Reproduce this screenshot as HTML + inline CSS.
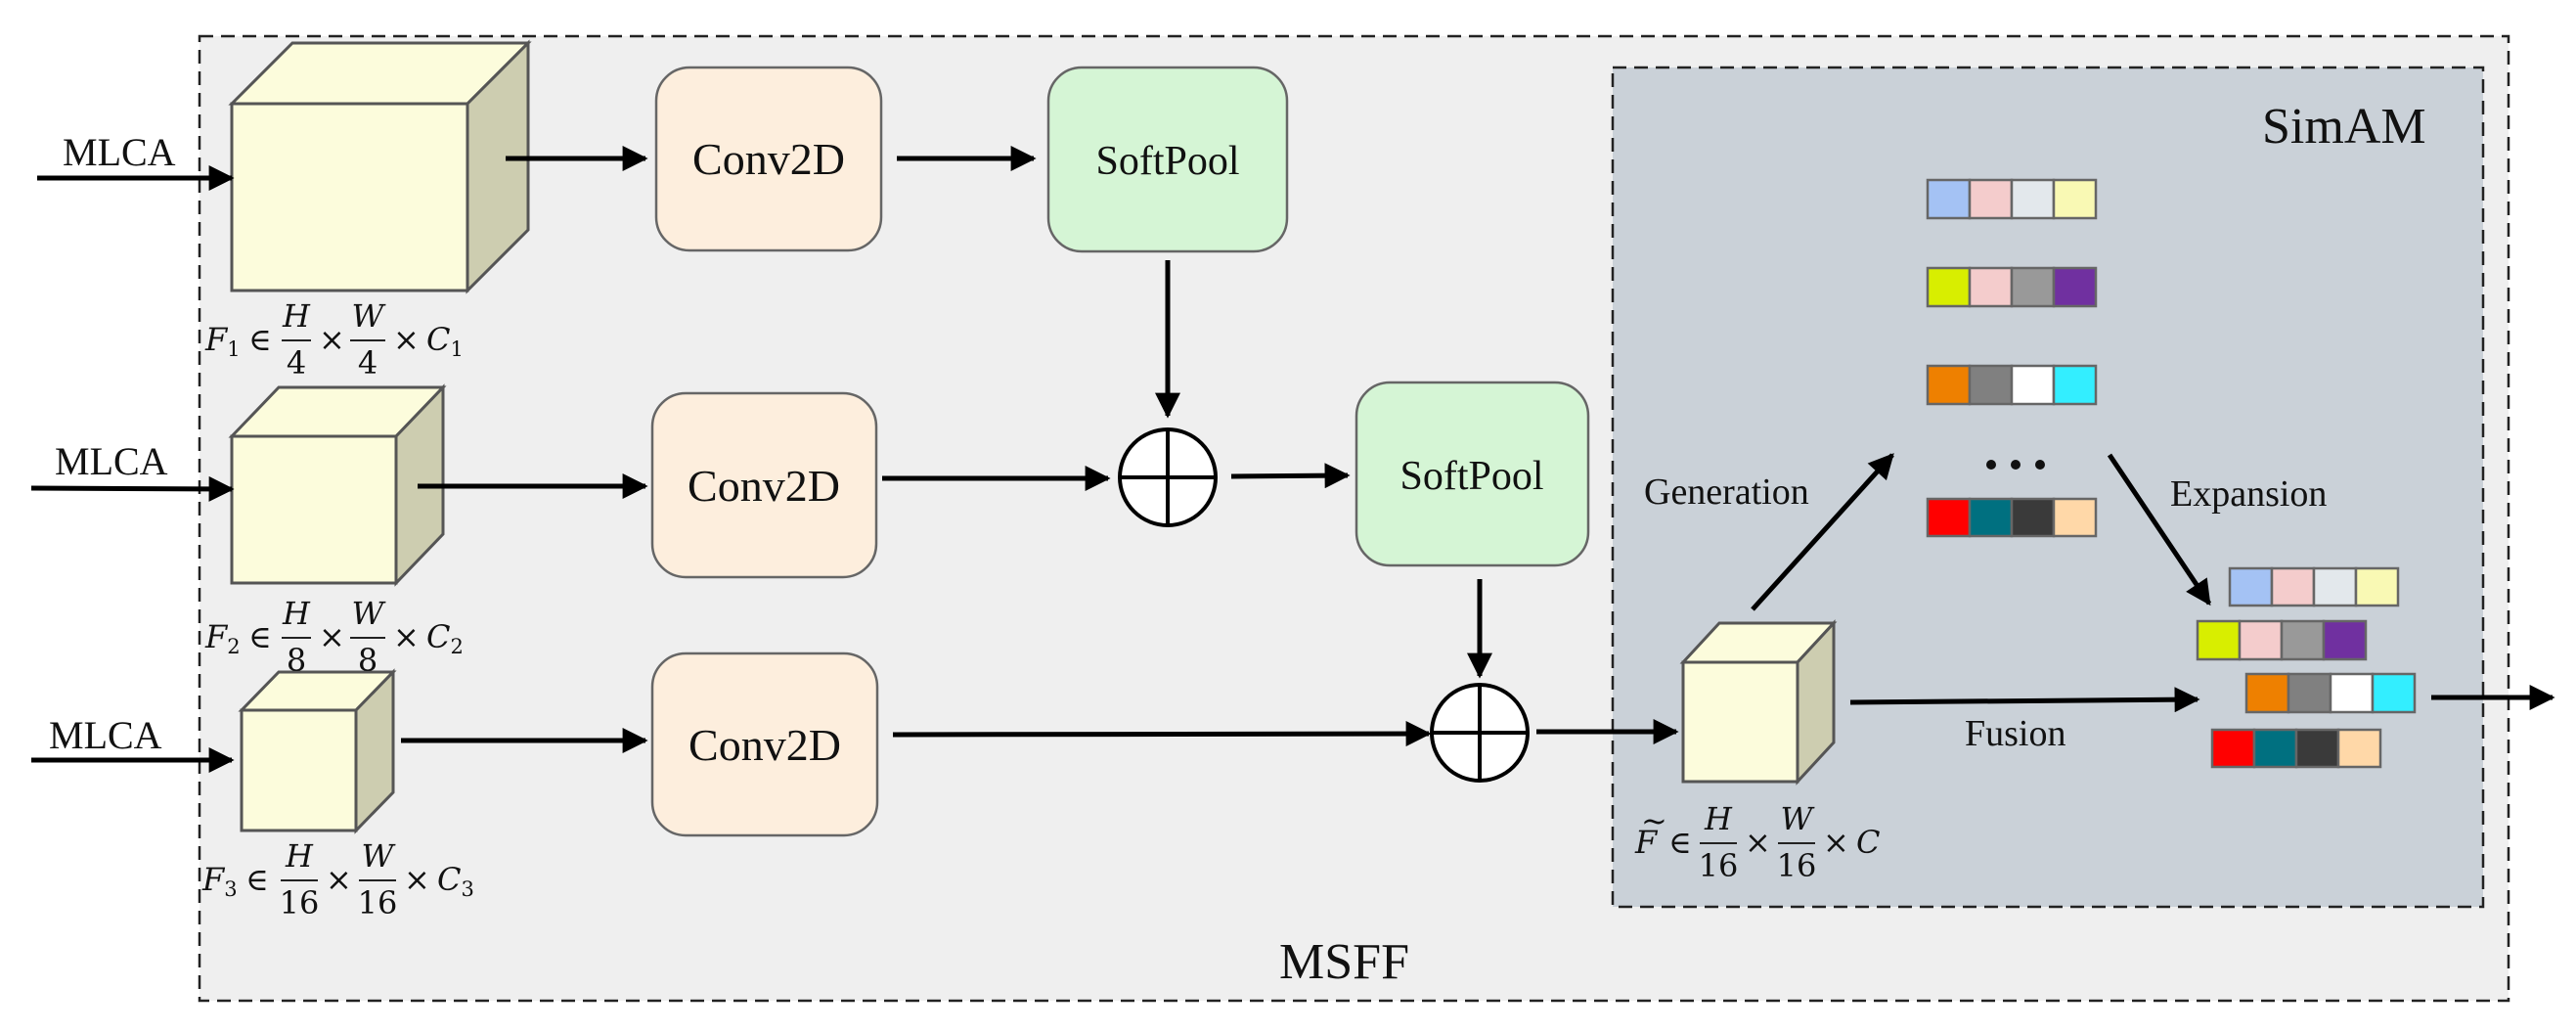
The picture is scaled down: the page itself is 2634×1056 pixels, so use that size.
<!DOCTYPE html>
<html><head><meta charset="utf-8"><style>
html,body{margin:0;padding:0;background:#fff;}
svg text{font-family:"Liberation Serif",serif;fill:#111;}
.m{font-family:"DejaVu Serif","Liberation Serif",serif;font-style:italic;font-size:32px;}
.n{font-family:"DejaVu Serif","Liberation Serif",serif;font-size:32px;}
.s{font-size:21px;}
</style></head><body>
<svg width="2634" height="1051" viewBox="0 0 2634 1051" xmlns="http://www.w3.org/2000/svg">
<defs>
<marker id="ar" viewBox="0 0 10 10" refX="9" refY="5" markerWidth="28" markerHeight="26" markerUnits="userSpaceOnUse" orient="auto"><path d="M0,0 L10,5 L0,10 z" fill="#000"/></marker>
</defs>
<rect x="0" y="0" width="2634" height="1051" fill="#fff"/>
<rect x="204" y="37" width="2361" height="986" fill="#efefef" stroke="#222" stroke-width="2.5" stroke-dasharray="14,8"/>
<rect x="1649" y="69" width="890" height="858" fill="#cad1d8" stroke="#222" stroke-width="2.5" stroke-dasharray="14,8"/>

<g stroke="#555" stroke-width="3" stroke-linejoin="miter">
<polygon points="237,106 299,44 540,44 478,106" fill="#fcfcdc"/>
<polygon points="478,106 540,44 540,235 478,297" fill="#cdcdb0"/>
<rect x="237" y="106" width="241" height="191" fill="#fcfcdc"/>
<polygon points="237,446 285,396 453,396 405,446" fill="#fcfcdc"/>
<polygon points="405,446 453,396 453,546 405,596" fill="#cdcdb0"/>
<rect x="237" y="446" width="168" height="150" fill="#fcfcdc"/>
<polygon points="247,726 285,687 402,687 364,726" fill="#fcfcdc"/>
<polygon points="364,726 402,687 402,810 364,849" fill="#cdcdb0"/>
<rect x="247" y="726" width="117" height="123" fill="#fcfcdc"/>
<polygon points="1721,677 1758,637 1875,637 1838,677" fill="#fcfcdc"/>
<polygon points="1838,677 1875,637 1875,759 1838,799" fill="#cdcdb0"/>
<rect x="1721" y="677" width="117" height="122" fill="#fcfcdc"/>
</g>

<g stroke="#666" stroke-width="2.5">
<rect x="671" y="69" width="230" height="187" rx="34" fill="#fdeedd"/>
<rect x="667" y="402" width="229" height="188" rx="34" fill="#fdeedd"/>
<rect x="667" y="668" width="230" height="186" rx="34" fill="#fdeedd"/>
<rect x="1072" y="69" width="244" height="188" rx="34" fill="#d5f5d5"/>
<rect x="1387" y="391" width="237" height="187" rx="34" fill="#d5f5d5"/>
</g>
<g font-size="46" text-anchor="middle">
<text x="786" y="178">Conv2D</text>
<text x="781" y="512">Conv2D</text>
<text x="782" y="777">Conv2D</text>
<text x="1194" y="178" font-size="42">SoftPool</text>
<text x="1505" y="500" font-size="42">SoftPool</text>
</g>
<g font-size="40">
<text x="64" y="169">MLCA</text>
<text x="56" y="485">MLCA</text>
<text x="50" y="765">MLCA</text>
<text x="1308" y="1000" font-size="52">MSFF</text>
<text x="2313" y="146" font-size="52">SimAM</text>
<text x="1681" y="515" font-size="38">Generation</text>
<text x="2219" y="517" font-size="38">Expansion</text>
<text x="2009" y="762" font-size="38">Fusion</text>
</g>

<g stroke="#000" stroke-width="5" fill="none" marker-end="url(#ar)">
<line x1="38" y1="182" x2="237" y2="182"/>
<line x1="32" y1="499" x2="237" y2="500"/>
<line x1="32" y1="777" x2="237" y2="777"/>
<line x1="517" y1="162" x2="660" y2="162"/>
<line x1="917" y1="162" x2="1057" y2="162"/>
<line x1="1194" y1="266" x2="1194" y2="425"/>
<line x1="427" y1="497" x2="660" y2="497"/>
<line x1="902" y1="489" x2="1133" y2="489"/>
<line x1="1259" y1="487" x2="1378" y2="486"/>
<line x1="410" y1="757" x2="660" y2="757"/>
<line x1="913" y1="751" x2="1461" y2="750"/>
<line x1="1513" y1="592" x2="1513" y2="691"/>
<line x1="1571" y1="748" x2="1714" y2="748"/>
<line x1="1792" y1="623" x2="1935" y2="465"/>
<line x1="2157" y1="465" x2="2259" y2="617"/>
<line x1="1892" y1="718" x2="2247" y2="715"/>
<line x1="2486" y1="713" x2="2610" y2="713"/>
</g>
<g stroke="#000" stroke-width="4" fill="#fff">
<ellipse cx="1194" cy="488" rx="49" ry="49"/>
<line x1="1145" y1="488" x2="1243" y2="488"/><line x1="1194" y1="439" x2="1194" y2="537"/>
<ellipse cx="1513" cy="749" rx="49" ry="49"/>
<line x1="1464" y1="749" x2="1562" y2="749"/><line x1="1513" y1="700" x2="1513" y2="798"/>
</g>
<g fill="#111"><circle cx="2036" cy="475" r="5"/><circle cx="2061" cy="475" r="5"/><circle cx="2086" cy="475" r="5"/></g>

<g stroke="#666" stroke-width="2.5">
<g transform="translate(1971,184)"><rect x="0" width="43" height="39" fill="#a4c2f4"/><rect x="43" width="43" height="39" fill="#f4cccc"/><rect x="86" width="43" height="39" fill="#e3e8ec"/><rect x="129" width="43" height="39" fill="#f9f9b4"/></g>
<g transform="translate(1971,274)"><rect x="0" width="43" height="39" fill="#d8ee00"/><rect x="43" width="43" height="39" fill="#f4cccc"/><rect x="86" width="43" height="39" fill="#999"/><rect x="129" width="43" height="39" fill="#7030a0"/></g>
<g transform="translate(1971,374)"><rect x="0" width="43" height="39" fill="#ee8000"/><rect x="43" width="43" height="39" fill="#808080"/><rect x="86" width="43" height="39" fill="#fff"/><rect x="129" width="43" height="39" fill="#33eeff"/></g>
<g transform="translate(1971,510)"><rect x="0" width="43" height="38" fill="#ff0000"/><rect x="43" width="43" height="38" fill="#007080"/><rect x="86" width="43" height="38" fill="#3a3a3a"/><rect x="129" width="43" height="38" fill="#ffd8a8"/></g>
<g transform="translate(2280,581)"><rect x="0" width="43" height="38" fill="#a4c2f4"/><rect x="43" width="43" height="38" fill="#f4cccc"/><rect x="86" width="43" height="38" fill="#e3e8ec"/><rect x="129" width="43" height="38" fill="#f9f9b4"/></g>
<g transform="translate(2247,635)"><rect x="0" width="43" height="39" fill="#d8ee00"/><rect x="43" width="43" height="39" fill="#f4cccc"/><rect x="86" width="43" height="39" fill="#999"/><rect x="129" width="43" height="39" fill="#7030a0"/></g>
<g transform="translate(2297,689)"><rect x="0" width="43" height="39" fill="#ee8000"/><rect x="43" width="43" height="39" fill="#808080"/><rect x="86" width="43" height="39" fill="#fff"/><rect x="129" width="43" height="39" fill="#33eeff"/></g>
<g transform="translate(2262,746)"><rect x="0" width="43" height="38" fill="#ff0000"/><rect x="43" width="43" height="38" fill="#007080"/><rect x="86" width="43" height="38" fill="#3a3a3a"/><rect x="129" width="43" height="38" fill="#ffd8a8"/></g>
</g>

<g transform="translate(210,348)">
<text class="m" x="0" y="10">F<tspan class="s" dy="6" font-style="normal">1</tspan></text>
<text class="n" x="44" y="10">∈</text>
<text class="m" x="93" y="-14" text-anchor="middle">H</text><line x1="78" y1="0" x2="108" y2="0" stroke="#222" stroke-width="2"/><text class="n" x="93" y="34" text-anchor="middle">4</text>
<text class="n" x="116" y="10">×</text>
<text class="m" x="166" y="-14" text-anchor="middle">W</text><line x1="148" y1="0" x2="184" y2="0" stroke="#222" stroke-width="2"/><text class="n" x="166" y="34" text-anchor="middle">4</text>
<text class="n" x="192" y="10">×</text>
<text class="m" x="226" y="10">C<tspan class="s" dy="6" font-style="normal">1</tspan></text>
</g>
<g transform="translate(210,652)">
<text class="m" x="0" y="10">F<tspan class="s" dy="6" font-style="normal">2</tspan></text>
<text class="n" x="44" y="10">∈</text>
<text class="m" x="93" y="-14" text-anchor="middle">H</text><line x1="78" y1="0" x2="108" y2="0" stroke="#222" stroke-width="2"/><text class="n" x="93" y="34" text-anchor="middle">8</text>
<text class="n" x="116" y="10">×</text>
<text class="m" x="166" y="-14" text-anchor="middle">W</text><line x1="148" y1="0" x2="184" y2="0" stroke="#222" stroke-width="2"/><text class="n" x="166" y="34" text-anchor="middle">8</text>
<text class="n" x="192" y="10">×</text>
<text class="m" x="226" y="10">C<tspan class="s" dy="6" font-style="normal">2</tspan></text>
</g>
<g transform="translate(207,900)">
<text class="m" x="0" y="10">F<tspan class="s" dy="6" font-style="normal">3</tspan></text>
<text class="n" x="44" y="10">∈</text>
<text class="m" x="99" y="-14" text-anchor="middle">H</text><line x1="80" y1="0" x2="118" y2="0" stroke="#222" stroke-width="2"/><text class="n" x="99" y="34" text-anchor="middle">16</text>
<text class="n" x="126" y="10">×</text>
<text class="m" x="179" y="-14" text-anchor="middle">W</text><line x1="160" y1="0" x2="198" y2="0" stroke="#222" stroke-width="2"/><text class="n" x="179" y="34" text-anchor="middle">16</text>
<text class="n" x="206" y="10">×</text>
<text class="m" x="240" y="10">C<tspan class="s" dy="6" font-style="normal">3</tspan></text>
</g>
<g transform="translate(1672,862)">
<text class="m" x="0" y="10">F</text><text class="n" x="6" y="-12" font-size="22">~</text>
<text class="n" x="34" y="10">∈</text>
<text class="m" x="85" y="-14" text-anchor="middle">H</text><line x1="66" y1="0" x2="104" y2="0" stroke="#222" stroke-width="2"/><text class="n" x="85" y="34" text-anchor="middle">16</text>
<text class="n" x="112" y="10">×</text>
<text class="m" x="165" y="-14" text-anchor="middle">W</text><line x1="146" y1="0" x2="184" y2="0" stroke="#222" stroke-width="2"/><text class="n" x="165" y="34" text-anchor="middle">16</text>
<text class="n" x="192" y="10">×</text>
<text class="m" x="226" y="10">C</text>
</g>
</svg>
</body></html>
